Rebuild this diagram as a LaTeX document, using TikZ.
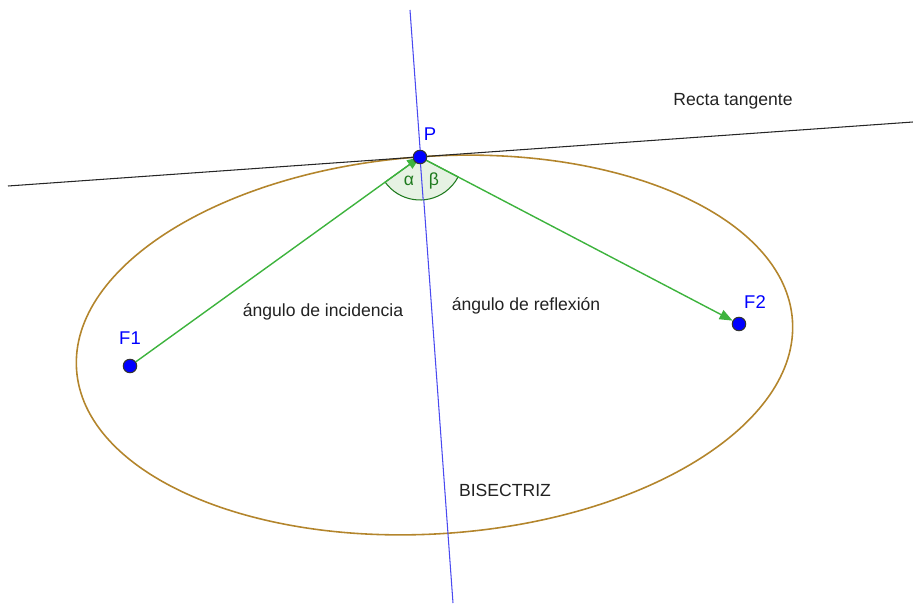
\documentclass[tikz,border=0pt]{standalone}
\usepackage{fontspec}
\setmainfont{Liberation Sans}
\usepackage{tikz}
\usetikzlibrary{arrows.meta,calc}
\definecolor{ocre}{HTML}{B3852C}
\definecolor{verde}{HTML}{3DB33D}
\definecolor{verdeosc}{HTML}{1E7A1E}
\definecolor{verdeclaro}{HTML}{E6F2E3}
\definecolor{azul}{HTML}{0000FF}
\definecolor{azulrecta}{HTML}{4A4AF0}
\definecolor{texto}{HTML}{222222}

\begin{document}
\begin{tikzpicture}[x=0.02cm,y=0.02cm,
  punto/.style={circle,draw=black!80,fill=azul,line width=0.6pt,minimum size=0.27cm,inner sep=0pt},
  etq/.style={font=\fontsize{10}{12}\selectfont,text=texto},
  etqpunto/.style={font=\fontsize{10.5}{12}\selectfont,text=azul},
  rayo/.style={verde,line width=0.8pt,-{Triangle[length=0.26cm,width=0.2cm]}}]
  \useasboundingbox (0,0) rectangle (913,603);
  % elipse y rectas
  \draw[ocre,line width=0.9pt,rotate around={3.95:(434.5,258)}] (434.5,258) ellipse [x radius=358.8,y radius=188.7];
  \coordinate (t1) at (8,417);   \coordinate (t2) at (913,481);
  \coordinate (b1) at (410,593); \coordinate (b2) at (453,0);
  \draw[black!85,line width=0.6pt] (t1) -- (t2);
  \draw[azulrecta,line width=0.6pt] (b1) -- (b2);
  % angulos
  \coordinate (p) at (420,446);
  \filldraw[verdeosc,fill=verdeclaro,line width=0.6pt] (p) -- ++(215.8:43) arc[start angle=215.8,end angle=332.4,radius=43] -- cycle;
  \draw[azulrecta,line width=0.6pt] (p) -- ($(p)!43/446.5!(b2)$);
  \node[font=\fontsize{10}{12}\selectfont,text=verdeosc] (alfa) at (409,422) {α};
  \node[font=\fontsize{10}{12}\selectfont,text=verdeosc] (beta) at (434,422) {β};
  % focos y punto
  \node[punto] (F1) at (130,237) {};
  \node[punto] (F2) at (739,279) {};
  \draw[rayo] (F1) -- (p);
  \draw[rayo] (p) -- (F2);
  \node[punto] (P) at (p) {};
  \node[etqpunto] (lF1) at (130,265) {F1};
  \node[etqpunto] (lF2) at (755,301) {F2};
  \node[etqpunto] (lP) at (430,469) {P};
  % textos
  \node[etq] (tang) at (733,502) {Recta tangente};
  \node[etq] (inc) at (323,291) {ángulo de incidencia};
  \node[etq] (ref) at (526,297) {ángulo de reflexión};
  \node[etq] (bis) at (505,113) {BISECTRIZ};
\end{tikzpicture}
\end{document}
